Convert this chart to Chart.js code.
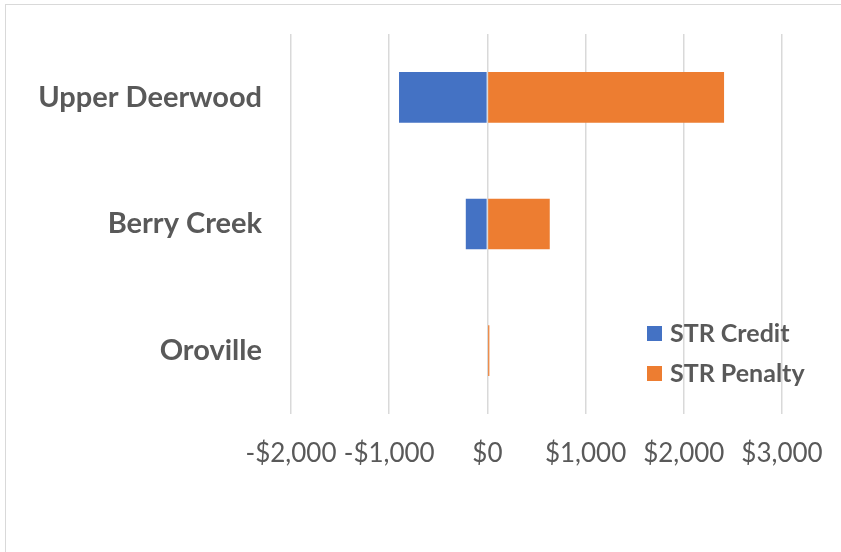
<!DOCTYPE html>
<html>
<head>
<meta charset="utf-8">
<script src="https://cdn.jsdelivr.net/npm/chart.js@4.4.0/dist/chart.umd.min.js"></script>
<style>
  html, body { margin: 0; padding: 0; background: #fff; overflow: hidden; }
  #wrap { width: 841px; height: 552px; }
</style>
</head>
<body>
<div id="wrap"><canvas id="chart" width="841" height="552"></canvas></div>
<script>
const areas = ["Upper Deerwood", "Berry Creek", "Oroville"];
const strCredit = [-900, -220, 0];
const strPenalty = [2410, 635, 20];
const tickValues = [-2000, -1000, 0, 1000, 2000, 3000];

const textColor = "#595959";
const fontFamily = "Lato, 'Open Sans', sans-serif";

function money (v) {
    const s = "$" + Math.abs(v).toLocaleString("en-US");
    return v < 0 ? "-" + s : s;
}

// outer frame + legend drawn inside the plot area, lower right
const frameAndLegend = {
    id: "frameAndLegend",
    beforeDraw (chart) {
        const ctx = chart.ctx;
        ctx.save();
        ctx.strokeStyle = "#d9d9d9";
        ctx.lineWidth = 1;
        ctx.strokeRect(5.5, 4.5, 900, 600);
        ctx.restore();
    },
    afterDraw (chart) {
        const ctx = chart.ctx;
        ctx.save();
        ctx.font = "bold 25px " + fontFamily;
        ctx.textBaseline = "middle";
        chart.data.datasets.forEach((ds, i) => {
            const y = 334 + i * 40;
            ctx.fillStyle = ds.backgroundColor;
            ctx.fillRect(647, y - 8, 15, 15);
            ctx.fillStyle = textColor;
            ctx.fillText(ds.label, 670, y);
        });
        ctx.restore();
    }
};

new Chart(document.getElementById("chart"), {
    type: "bar",
    data: {
        labels: areas,
        datasets: [
            {
                label: "STR Credit",
                data: strCredit,
                backgroundColor: "#4472C4",
                barPercentage: 0.4,
                categoryPercentage: 1,
            },
            {
                label: "STR Penalty",
                data: strPenalty,
                backgroundColor: "#ED7D31",
                barPercentage: 0.4,
                categoryPercentage: 1,
            },
        ],
    },
    options: {
        indexAxis: "y",
        responsive: false,
        animation: false,
        layout: { padding: { top: 34, right: 59, left: 0, bottom: 0 } },
        plugins: {
            legend: { display: false },
            tooltip: { enabled: false },
        },
        scales: {
            x: {
                stacked: true,
                min: -2000,
                max: 3000,
                afterBuildTicks: (s) => { s.ticks = tickValues.map(v => ({ value: v })); },
                afterFit: (s) => {
                    s.height = 552 - 414;
                    s.paddingLeft = 0;
                    s.paddingRight = 0;
                },
                border: { display: false },
                grid: { color: "#d9d9d9", lineWidth: 1.5, drawTicks: false },
                ticks: {
                    padding: 24,
                    color: textColor,
                    font: { family: fontFamily, size: 26 },
                    callback: (v) => money(v),
                    maxRotation: 0,
                },
            },
            y: {
                stacked: true,
                afterFit: (s) => {
                    s.width = 291;
                    s.paddingTop = 0;
                    s.paddingBottom = 0;
                },
                border: { display: false },
                grid: { display: false, drawTicks: false },
                ticks: {
                    padding: 29,
                    color: textColor,
                    font: { family: fontFamily, size: 29, weight: "bold" },
                },
            },
        },
    },
    plugins: [frameAndLegend],
});
</script>
</body>
</html>
